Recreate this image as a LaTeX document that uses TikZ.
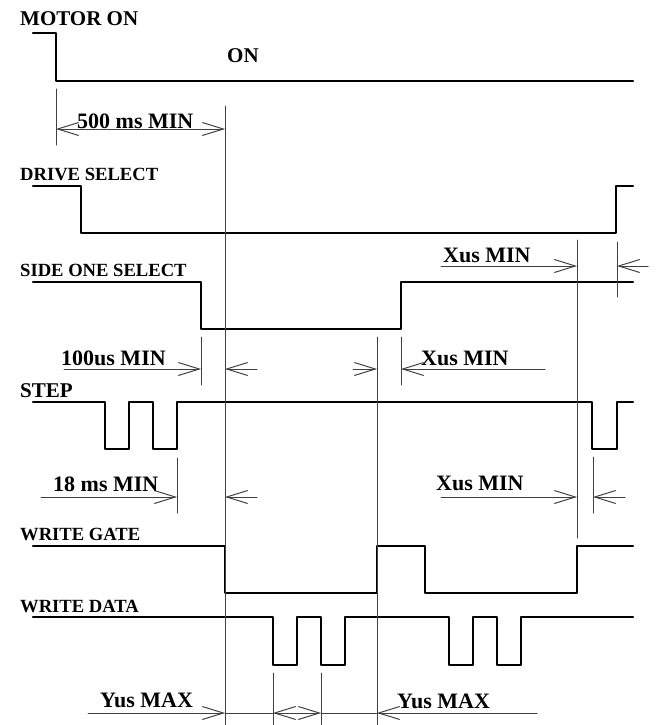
\documentclass[tikz,border=0pt]{standalone}
\usepackage{fontspec}
\setmainfont{Liberation Serif}
\usetikzlibrary{arrows.meta}
\tikzset{
  sig/.style={line width=2.2pt},
  dim/.style={line width=1pt, black!75},
  barb/.tip={Straight Barb[length=21pt,width=13pt]},
  lbl/.style={anchor=base west, inner sep=0pt, font=\bfseries\fontsize{18.6}{20}\selectfont},
  biglbl/.style={anchor=base west, inner sep=0pt, font=\bfseries\fontsize{21}{23}\selectfont},
  dimlbl/.style={anchor=base west, inner sep=0pt, font=\bfseries\fontsize{22}{24}\selectfont},
}
\begin{document}
\begin{tikzpicture}[x=1pt, y=-1pt, line join=round, line cap=round]
	\useasboundingbox (0,0) rectangle (658,725);
	% signal names
	\node[biglbl] (motor) at (20,26) {MOTOR ON};
	\node[biglbl] (on) at (227,63) {ON};
	\node[lbl] (drive) at (20,180) {DRIVE SELECT};
	\node[lbl] (side) at (20,276) {SIDE ONE SELECT};
	\node[biglbl] (step) at (20,397) {STEP};
	\node[lbl] (wgate) at (20,540) {WRITE GATE};
	\node[lbl] (wdata) at (20,612) {WRITE DATA};
	% waveforms
	\draw[sig] (33,33) -- (56,33) -- (56,81) -- (633,81);
	\draw[sig] (33,186) -- (81,186) -- (81,233) -- (616,233) -- (616,186) -- (633,186);
	\draw[sig] (33,282) -- (201,282) -- (201,329) -- (401,329) -- (401,282) -- (633,282);
	\draw[sig] (33,402) -- (105,402) -- (105,449) -- (129,449) -- (129,402) -- (153,402) -- (153,449)
		-- (177,449) -- (177,402) -- (592,402) -- (592,449) -- (617,449) -- (617,402) -- (633,402);
	\draw[sig] (33,546) -- (225,546) -- (225,593) -- (377,593) -- (377,546) -- (425,546) -- (425,593)
		-- (577,593) -- (577,546) -- (633,546);
	\draw[sig] (33,617) -- (273,617) -- (273,665) -- (297,665) -- (297,617) -- (321,617) -- (321,665)
		-- (345,665) -- (345,617) -- (449,617) -- (449,665) -- (473,665) -- (473,617) -- (497,617)
		-- (497,665) -- (521,665) -- (521,617) -- (633,617);
	% extension lines
	\draw[dim] (56,89) -- (56,145) (225,106) -- (225,725);
	\draw[dim] (577,240) -- (577,538) (617,242) -- (617,297);
	\draw[dim] (201,337) -- (201,385) (377,337) -- (377,725) (401,337) -- (401,385);
	\draw[dim] (177,458) -- (177,513) (593,457) -- (593,513);
	\draw[dim] (273,673) -- (273,725) (321,673) -- (321,725);
	% timing labels
	\draw[dim, barb-barb] (56,129) -- (225,129);
	\node[dimlbl] (t500) at (77,128) {500 ms MIN};
	\draw[dim, -barb] (441,266) -- (577,266);
	\draw[dim, -barb] (648,266) -- (617,266);
	\node[dimlbl] (xa) at (443,262) {Xus MIN};
	\draw[dim, -barb] (64,369) -- (201,369);
	\draw[dim, -barb] (257,369) -- (225,369);
	\node[dimlbl] (t100) at (61,365) {100us MIN};
	\draw[dim, -barb] (353,369) -- (377,369);
	\draw[dim, -barb] (545,369) -- (401,369);
	\node[dimlbl] (xb) at (421,365) {Xus MIN};
	\draw[dim, -barb] (41,497) -- (177,497);
	\draw[dim, -barb] (257,497) -- (225,497);
	\node[dimlbl] (t18) at (53,491) {18 ms MIN};
	\draw[dim, -barb] (441,497) -- (577,497);
	\draw[dim, -barb] (625,497) -- (593,497);
	\node[dimlbl] (xc) at (436,490) {Xus MIN};
	\draw[dim, -barb] (88,713) -- (225,713);
	\draw[dim] (225,713) -- (273,713) (321,713) -- (377,713);
	\draw[dim, barb-barb] (273,713) -- (321,713);
	\draw[dim, -barb] (537,713) -- (377,713);
	\node[dimlbl] (ya) at (100,707) {Yus MAX};
	\node[dimlbl] (yb) at (397,708) {Yus MAX};
\end{tikzpicture}
\end{document}
